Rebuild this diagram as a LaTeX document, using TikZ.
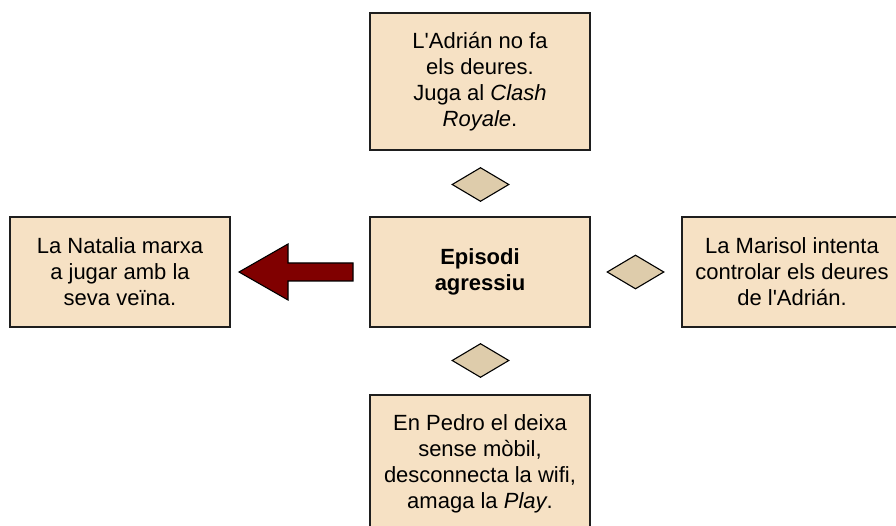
\documentclass[tikz,border=0pt]{standalone}
\usepackage{fontspec}
\setmainfont{Liberation Sans}[Ligatures=TeXOff]
\usetikzlibrary{shapes.geometric}
\definecolor{boxfill}{RGB}{246,225,196}
\definecolor{diafill}{RGB}{222,204,171}
\definecolor{arrowred}{RGB}{128,0,0}
\definecolor{edge}{RGB}{30,30,30}
\tikzset{
  card/.style={draw=edge, line width=1.3pt, fill=boxfill, rectangle,
    minimum width=220pt, minimum height=110pt, inner sep=0pt,
    align=center, font=\fontsize{22}{26}\selectfont},
  rhomb/.style={draw=black, line width=1.1pt, fill=diafill, diamond,
    minimum width=57pt, minimum height=34pt, inner sep=0pt, aspect=1.7}
}
\begin{document}
\begin{tikzpicture}[x=1pt,y=-1pt]
\useasboundingbox (0,0) rectangle (896,526);
\clip (0,0) rectangle (896,526);
\fill[white] (0,0) rectangle (896,526);
\node[card, minimum height=137pt] (top) at (480,81.5) {\raisebox{-3pt}{\parbox{210pt}{\centering L'Adrián no fa\\els deures.\\Juga al \textit{Clash}\\\textit{Royale}.}}};
\node[card] (center) at (480,272) {\textbf{Episodi}\\\textbf{agressiu}};
\node[card] (left) at (120,272) {La Natalia marxa\\a jugar amb la\\seva veïna.};
\node[card] (right) at (792,272) {La Marisol intenta\\controlar els deures\\de l'Adrián.};
\node[card, minimum height=137pt] (bottom) at (480,463.5) {\raisebox{-2pt}{\parbox{210pt}{\centering En Pedro el deixa\\sense mòbil,\\desconnecta la wifi,\\amaga la \textit{Play}.}}};
\node[rhomb] (dtop) at (480.5,184.5) {};
\node[rhomb] (dbottom) at (480.5,360.5) {};
\node[rhomb] (dright) at (635.5,272) {};
\coordinate (tip) at (239,272);
\draw[fill=arrowred, draw=black, line width=1.1pt, line join=miter]
  (tip) -- (288,244) -- (288,263) -- (353,263) -- (353,281) -- (288,281) -- (288,300) -- cycle;
\end{tikzpicture}
\end{document}
